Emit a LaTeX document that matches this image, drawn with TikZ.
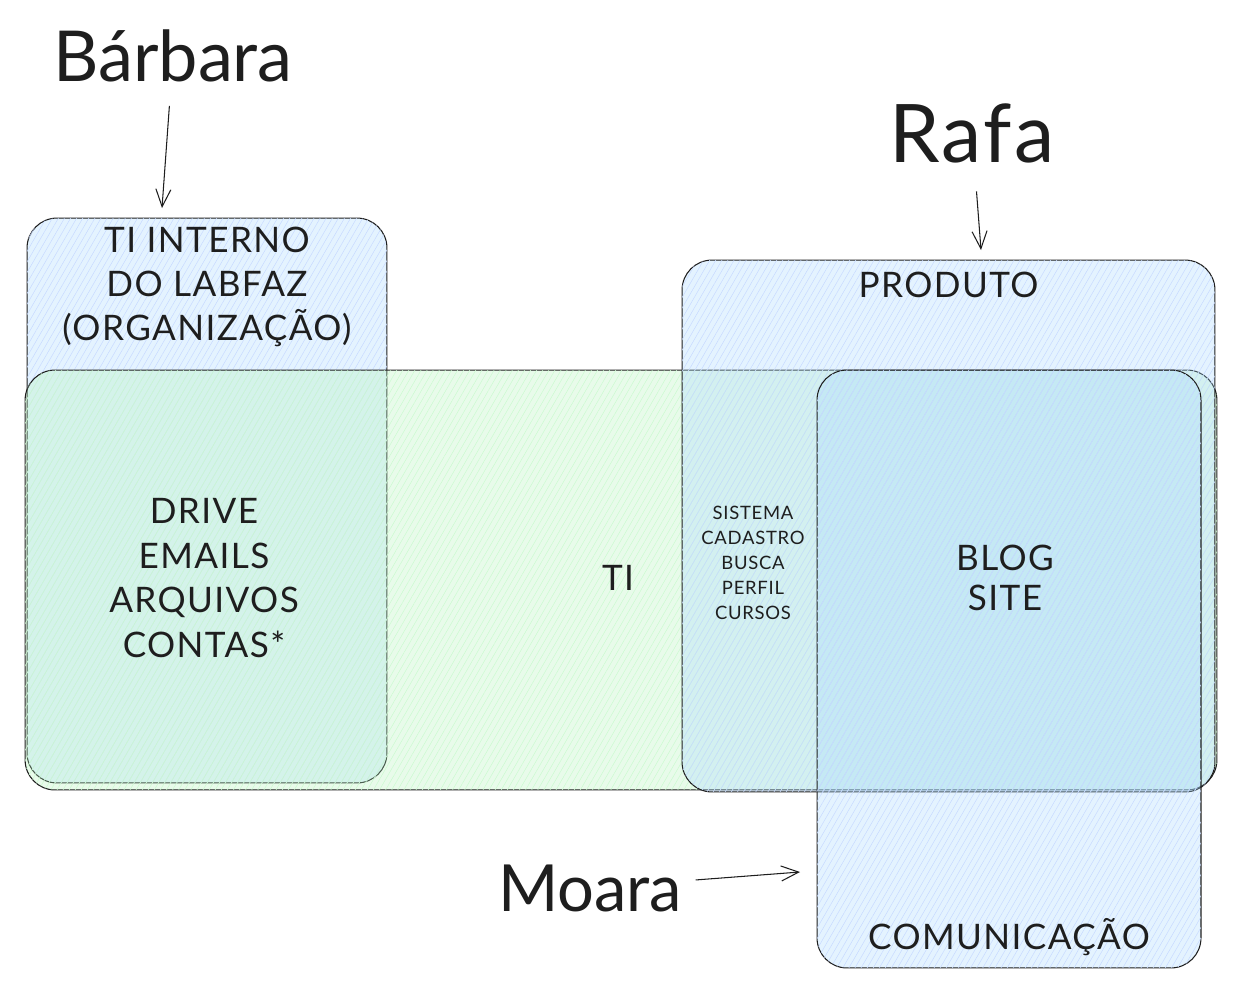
\documentclass[tikz,border=0pt]{standalone}
\usepackage{fontspec}
\setmainfont{Lato}
\usetikzlibrary{arrows.meta, positioning, patterns.meta}
\definecolor{hatchblue}{HTML}{a5d8ff}
\definecolor{hatchgreen}{HTML}{b2f2bb}
\definecolor{inkdark}{HTML}{1e1e1e}

\begin{document}
\begin{tikzpicture}[x=0.02cm, y=-0.02cm,
    area/.style={draw=inkdark, line width=0.6pt, rounded corners=0.6cm, inner sep=0pt, outer sep=0pt, fill opacity=0.3},
    blue area/.style={area, fill=hatchblue, postaction={pattern={Lines[angle=60, distance=3pt, line width=0.3pt]}, pattern color=hatchblue!80!blue!45}},
    green area/.style={area, fill=hatchgreen, postaction={pattern={Lines[angle=60, distance=3pt, line width=0.3pt]}, pattern color=hatchgreen!80!green!45}},
    boxtext/.style={text=inkdark, align=center, font=\fontsize{20}{25}\selectfont\addfontfeature{LetterSpace=4}},
    nametext/.style={text=inkdark, font=\fontsize{40}{42}\selectfont},
    seta/.style={-{Straight Barb[length=0.35cm, width=0.3cm]}, draw=inkdark, line width=0.6pt}]
  \useasboundingbox (0,0) rectangle (1241,994);
  % areas
  \node[blue area, minimum width=7.2cm, minimum height=11.3cm] (tiint) at (207,500.5) {};
  \node[green area, minimum width=23.84cm, minimum height=8.4cm] (ti) at (621,580) {};
  \node[blue area, minimum width=10.66cm, minimum height=10.64cm] (produto) at (948.5,526) {};
  \node[blue area, minimum width=7.68cm, minimum height=11.96cm] (comunic) at (1009,669) {};
  % texts
  \node[boxtext, below=0.05cm of tiint.north] (tiintlbl) {TI INTERNO\\DO LABFAZ\\(ORGANIZAÇÃO)};
  \node[boxtext, font=\fontsize{20}{25.5}\selectfont\addfontfeature{LetterSpace=4}] (tiintitens) at (204,578) {DRIVE\\EMAILS\\ARQUIVOS\\CONTAS*};
  \node[boxtext] (tilbl) at (618,578) {TI};
  \node[boxtext, font=\fontsize{10.5}{14.2}\selectfont\addfontfeature{LetterSpace=4}] (produtoitens) at (753,563) {SISTEMA\\CADASTRO\\BUSCA\\PERFIL\\CURSOS};
  \node[boxtext, font=\fontsize{20}{23}\selectfont\addfontfeature{LetterSpace=4}] (comunicitens) at (1005,578) {BLOG\\SITE};
  \node[boxtext, below=0.12cm of produto.north] (produtolbl) {PRODUTO};
  \node[boxtext, above=0.12cm of comunic.south] (comuniclbl) {COMUNICAÇÃO};
  % names
  \node[nametext] (barbara) at (173,56) {Bárbara};
  \node[nametext, font=\fontsize{46}{48}\selectfont\addfontfeature{LetterSpace=3}] (rafa) at (972,133) {Rafa};
  \node[nametext, font=\fontsize{37}{40}\selectfont] (moara) at (590,888) {Moara};
  \coordinate (pbarbara) at (162,208);
  \coordinate (prafa) at (981,250);
  \coordinate (pmoara) at (800,872);
  \draw[seta, shorten <=0.35cm] (barbara) -- (pbarbara);
  \draw[seta, shorten <=0.45cm] (rafa) -- (prafa);
  \draw[seta, shorten <=0.15cm] (moara) -- (pmoara);
\end{tikzpicture}
\end{document}
